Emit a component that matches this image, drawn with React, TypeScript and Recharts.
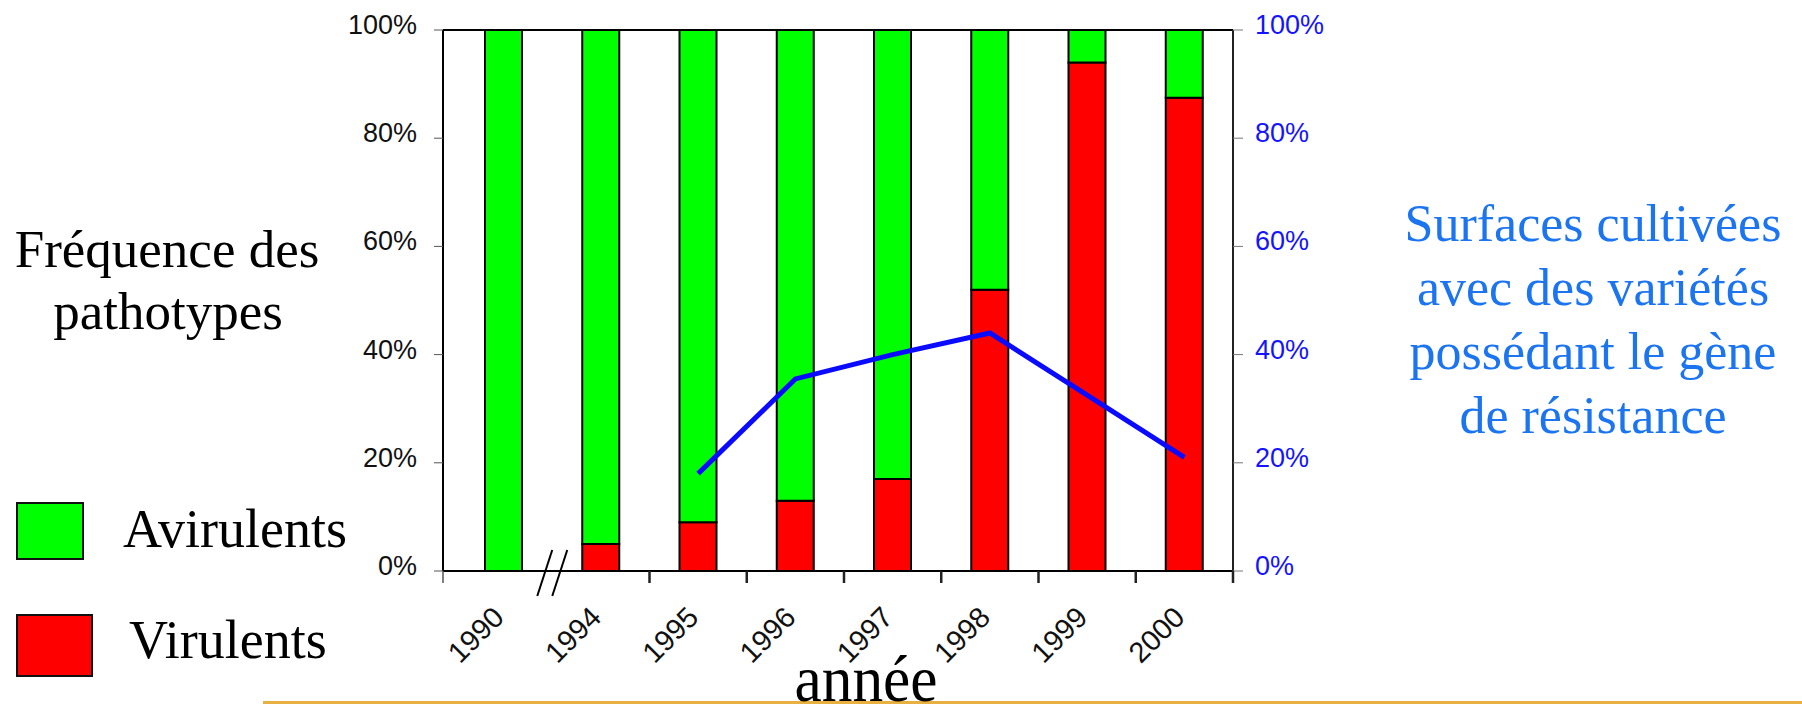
import React from "react"
import { Bar, ComposedChart, Line, ReferenceLine, XAxis, YAxis } from "recharts"

const years = ["1990", "1994", "1995", "1996", "1997", "1998", "1999", "2000"]
const virulents = [0, 5, 9, 13, 17, 52, 94, 87.5]
const avirulents = [100, 95, 91, 87, 83, 48, 6, 12.5]
const surfaces = [null, null, 18, 35.5, 40, 44, 32.5, 21]
const yTicks = [0, 20, 40, 60, 80, 100]

const data = years.map((year, i) => ({
  year,
  virulents: virulents[i],
  avirulents: avirulents[i],
  surfaces: surfaces[i],
}))

const W = 1802
const H = 704
const PLOT_LEFT = 443
const PLOT_RIGHT = 1233
const PAD_LEFT = 12
const BAND = (PLOT_RIGHT - PLOT_LEFT - PAD_LEFT) / years.length

const SANS = '"Liberation Sans", Arial, sans-serif'
const SERIF = '"Liberation Serif", "Times New Roman", serif'

function YearTick(props: any) {
  const { x, y, payload, index } = props
  const right = x + BAND / 2
  return (
    <g>
      {index === 0 ? (
        <g>
          <line x1={x - BAND / 2 - PAD_LEFT} x2={x - BAND / 2 - PAD_LEFT} y1={y} y2={y + 12} stroke="#555" strokeWidth={1.5} />
          {/* axis break */}
          <line x1={right - 15} y1={y + 25} x2={right} y2={y - 21} stroke="#000" strokeWidth={2} />
          <line x1={right} y1={y + 25} x2={right + 15} y2={y - 21} stroke="#000" strokeWidth={2} />
        </g>
      ) : (
        <line x1={right} x2={right} y1={y} y2={y + 12} stroke="#222" strokeWidth={2.5} />
      )}
      <text
        transform={`translate(${x + 2},${y + 48}) rotate(-45)`}
        textAnchor="end"
        fontSize={29}
        fontFamily={SANS}
        fill="#111"
      >
        {payload.value}
      </text>
    </g>
  )
}

function LeftTick(props: any) {
  const { x, y, payload } = props
  return (
    <text x={x} y={y} dy={4} textAnchor="end" fontSize={27} fontFamily={SANS} fill="#111">
      {payload.value}%
    </text>
  )
}

function RightTick(props: any) {
  const { x, y, payload } = props
  return (
    <text x={x} y={y} dy={4} textAnchor="start" fontSize={27} fontFamily={SANS} fill="#1414FF">
      {payload.value}%
    </text>
  )
}

export default function App() {
  return (
    <div style={{ position: "absolute", left: 0, top: 0, width: W, height: H, background: "#fff" }}>
      <ComposedChart
        width={W}
        height={H}
        data={data}
        margin={{ top: 30, right: W - PLOT_RIGHT - 80, left: PLOT_LEFT - 60, bottom: 73 }}
        barSize={37}
      >
        <XAxis
          dataKey="year"
          height={60}
          padding={{ left: PAD_LEFT, right: 0 }}
          axisLine={{ stroke: "#000", strokeWidth: 2 }}
          tickLine={false}
          tickSize={0}
          tickMargin={0}
          interval={0}
          tick={<YearTick />}
        />
        <YAxis
          yAxisId="left"
          width={60}
          domain={[0, 100]}
          ticks={yTicks}
          tickSize={9}
          tickMargin={17}
          axisLine={{ stroke: "#000", strokeWidth: 2 }}
          tickLine={{ stroke: "#555", strokeWidth: 1 }}
          tick={<LeftTick />}
        />
        <YAxis
          yAxisId="right"
          orientation="right"
          width={80}
          domain={[0, 100]}
          ticks={yTicks}
          tickSize={10}
          tickMargin={12}
          axisLine={{ stroke: "#222", strokeWidth: 2 }}
          tickLine={{ stroke: "#777", strokeWidth: 1 }}
          tick={<RightTick />}
        />
        <ReferenceLine yAxisId="left" y={100} stroke="#000" strokeWidth={2} />
        <Bar yAxisId="left" dataKey="virulents" stackId="a" fill="#FF0000" stroke="#000" strokeWidth={2} isAnimationActive={false} />
        <Bar yAxisId="left" dataKey="avirulents" stackId="a" fill="#00FF00" stroke="#000" strokeWidth={2} isAnimationActive={false} />
        <Line
          yAxisId="right"
          type="linear"
          dataKey="surfaces"
          stroke="#0A0AFF"
          strokeWidth={5}
          dot={false}
          activeDot={false}
          isAnimationActive={false}
        />
      </ComposedChart>

      <svg width={W} height={H} style={{ position: "absolute", left: 0, top: 0, pointerEvents: "none" }}>
        <text x={167} y={267} textAnchor="middle" fontSize={53} fontFamily={SERIF} fill="#000">
          Fréquence des
        </text>
        <text x={168} y={329} textAnchor="middle" fontSize={53} fontFamily={SERIF} fill="#000">
          pathotypes
        </text>

        <rect x={17} y={503} width={66} height={56} fill="#00FF00" stroke="#111" strokeWidth={2} />
        <text x={123} y={547} fontSize={54} fontFamily={SERIF} fill="#000">
          Avirulents
        </text>
        <rect x={17} y={615} width={75} height={61} fill="#FF0000" stroke="#111" strokeWidth={2} />
        <text x={129} y={658} fontSize={54} fontFamily={SERIF} fill="#000">
          Virulents
        </text>

        {["Surfaces cultivées", "avec des variétés", "possédant le gène", "de résistance"].map((line, i) => (
          <text key={line} x={1593} y={241 + i * 64} textAnchor="middle" fontSize={52} fontFamily={SERIF} fill="#1B74F0">
            {line}
          </text>
        ))}

        <rect x={263} y={701} width={W - 263} height={3} fill="#E8B040" />
        <text x={866} y={701} textAnchor="middle" fontSize={66} textLength={143} lengthAdjust="spacingAndGlyphs" fontFamily={SERIF} fill="#000">
          année
        </text>
      </svg>
    </div>
  )
}
